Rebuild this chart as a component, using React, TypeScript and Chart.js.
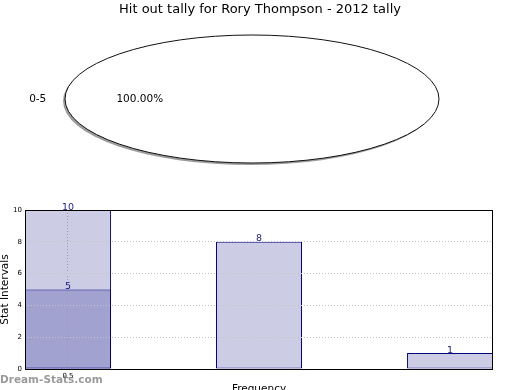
import React, { useEffect, useRef } from "react";
import { Chart, registerables } from "chart.js";

Chart.register(...registerables);

// ---- data ----
const TITLE = "Hit out tally for Rory Thompson - 2012 tally";
const pieLabels = ["0-5"];
const pieValues = [1];
const barCenters = [0.5, 1.5, 2.5];
const barTotals = [10, 8, 1];
const overlayCenters = [0.5];
const overlayValues = [5];
const xTicks = [0.5];
const yTicks = [0, 2, 4, 6, 8, 10];
const X_LABEL = "Frequency";
const Y_LABEL = "Stat Intervals";
const WATERMARK = "Dream-Stats.com";

// ---- style ----
const FONT = "'DejaVu Sans', 'Liberation Sans', sans-serif";
const ELLIPSE_ASPECT = 187 / 64;
const LIGHT = "#ccccE4";
const DARK = "#a2a2d0";
const EDGE = "#000080";
const LABEL_COLOR = "#1a1a8c";

const piePlugin = {
  id: "ellipsePie",
  beforeDatasetsDraw(chart: any) {
    const arc = chart.getDatasetMeta(0).data[0];
    if (!arc) return;
    const { x, y, outerRadius } = arc;
    const ctx = chart.ctx;
    ctx.save();
    ctx.beginPath();
    ctx.ellipse(x - 2, y + 2, outerRadius * ELLIPSE_ASPECT, outerRadius, 0, 0, Math.PI * 2);
    ctx.fillStyle = "rgba(90,90,90,0.6)";
    ctx.fill();
    ctx.restore();
    ctx.save();
    ctx.translate(x, y);
    ctx.scale(ELLIPSE_ASPECT, 1);
    ctx.translate(-x, -y);
  },
  afterDatasetsDraw(chart: any) {
    const ctx = chart.ctx;
    ctx.restore();
    const meta = chart.getDatasetMeta(0);
    const data = chart.data.datasets[0].data as number[];
    const total = data.reduce((a, b) => a + b, 0);
    meta.data.forEach((arc: any, i: number) => {
      const { x, y, outerRadius, startAngle, endAngle } = arc;
      const rx = outerRadius * ELLIPSE_ASPECT;
      const ry = outerRadius;
      ctx.save();
      ctx.beginPath();
      ctx.ellipse(x, y, rx, ry, 0, 0, Math.PI * 2);
      ctx.strokeStyle = "#111";
      ctx.lineWidth = 1;
      ctx.stroke();
      const mid = (startAngle + endAngle) / 2;
      const c = Math.cos(mid);
      const s = Math.sin(mid);
      ctx.fillStyle = "#000";
      ctx.font = `10.5px ${FONT}`;
      ctx.textBaseline = "middle";
      ctx.textAlign = c < -0.01 ? "right" : c > 0.01 ? "left" : "center";
      ctx.fillText(String(chart.data.labels[i]), x + c * 1.1 * rx, y + s * 1.1 * ry);
      ctx.textAlign = "center";
      const pct = ((data[i] / total) * 100).toFixed(2) + "%";
      ctx.fillText(pct, x + c * 0.6 * rx, y + s * 0.6 * ry);
      ctx.restore();
    });
  },
};

const barPlugin = {
  id: "barExtras",
  afterDraw(chart: any) {
    const ctx = chart.ctx;
    const { left, top, right, bottom } = chart.chartArea;
    ctx.save();
    ctx.strokeStyle = "#000";
    ctx.lineWidth = 1;
    ctx.strokeRect(left + 0.5, top + 0.5, right - left - 1, bottom - top);
    ctx.font = `9.5px ${FONT}`;
    ctx.fillStyle = LABEL_COLOR;
    ctx.textAlign = "center";
    ctx.textBaseline = "alphabetic";
    chart.data.datasets.forEach((ds: any, di: number) => {
      const meta = chart.getDatasetMeta(di);
      meta.data.forEach((bar: any, i: number) => {
        const v = ds.data[i].y;
        ctx.fillText(String(v), bar.x, bar.y - 0.5);
      });
    });
    ctx.font = `bold 10.5px ${FONT}`;
    ctx.fillStyle = "rgba(120,120,120,0.75)";
    ctx.textAlign = "left";
    ctx.textBaseline = "middle";
    ctx.fillText(WATERMARK, 0, chart.height - 10);
    ctx.restore();
  },
};

export default function App() {
  const barRef = useRef<HTMLCanvasElement>(null);
  const pieRef = useRef<HTMLCanvasElement>(null);

  useEffect(() => {
    document.body.style.margin = "0";
    const pie = new Chart(pieRef.current as HTMLCanvasElement, {
      type: "pie",
      data: {
        labels: pieLabels,
        datasets: [
          {
            data: pieValues,
            backgroundColor: "#ffffff",
            borderWidth: 0,
            hoverOffset: 0,
            offset: 0,
            clip: false,
          } as any,
        ],
      },
      options: {
        responsive: false,
        animation: false,
        rotation: 90,
        events: [],
        layout: { padding: { left: 0, right: 16, top: 35, bottom: 32 } },
        plugins: {
          legend: { display: false },
          tooltip: { enabled: false },
          title: { display: false },
        },
      } as any,
      plugins: [piePlugin],
    });

    const bar = new Chart(barRef.current as HTMLCanvasElement, {
      type: "bar",
      data: {
        datasets: [
          {
            label: "overlay",
            data: overlayCenters.map((x, i) => ({ x, y: overlayValues[i] })),
            backgroundColor: DARK,
            borderColor: EDGE,
            borderWidth: 1,
            borderSkipped: false,
            grouped: false,
            barPercentage: 0.45,
            categoryPercentage: 1,
          },
          {
            label: "totals",
            data: barCenters.map((x, i) => ({ x, y: barTotals[i] })),
            backgroundColor: LIGHT,
            borderColor: EDGE,
            borderWidth: 1,
            borderSkipped: false,
            grouped: false,
            barPercentage: 0.45,
            categoryPercentage: 1,
          },
        ] as any,
      },
      options: {
        responsive: false,
        animation: false,
        events: [],
        layout: { padding: 0 },
        plugins: {
          legend: { display: false },
          tooltip: { enabled: false },
          title: {
            display: true,
            text: TITLE,
            color: "#000",
            font: { family: FONT, size: 13, weight: "normal", lineHeight: 1.2 },
            padding: { top: 2, bottom: 192.4 },
          },
        },
        scales: {
          x: {
            type: "linear",
            offset: false,
            min: 0.275,
            max: 2.725,
            afterBuildTicks: (s: any) => {
              s.ticks = xTicks.map((v) => ({ value: v }));
            },
            ticks: {
              font: { family: FONT, size: 7 },
              color: "#000",
              padding: 3,
              callback: (v: any) => String(v),
            },
            grid: { color: "#9a9aa6", z: 1, drawTicks: false, lineWidth: 1, offset: false },
            border: { display: false, dash: [1, 2] },
            title: {
              display: true,
              text: X_LABEL,
              color: "#000",
              font: { family: FONT, size: 10.5 },
              padding: { top: 0, bottom: -6 },
            },
            afterFit: (s: any) => {
              s.height = 21;
            },
          },
          y: {
            min: 0,
            max: 10,
            afterBuildTicks: (s: any) => {
              s.ticks = yTicks.map((v) => ({ value: v }));
            },
            ticks: {
              font: { family: FONT, size: 7 },
              color: "#000",
              padding: 3,
            },
            grid: { color: "#c4c4c4", z: 1, drawTicks: false, lineWidth: 1 },
            border: { display: false, dash: [1, 2] },
            title: {
              display: true,
              text: Y_LABEL,
              color: "#000",
              font: { family: FONT, size: 10.5 },
              padding: { top: -1, bottom: 0 },
            },
            afterFit: (s: any) => {
              s.width = 25;
            },
          },
          y2: {
            position: "right",
            display: true,
            grid: { display: false, drawTicks: false },
            ticks: { display: false },
            border: { display: false },
            afterFit: (s: any) => {
              s.width = 27;
            },
          },
        },
      } as any,
      plugins: [barPlugin],
    });

    return () => {
      pie.destroy();
      bar.destroy();
    };
  }, []);

  return (
    <div style={{ position: "relative", width: 520, height: 390, overflow: "hidden", background: "#fff" }}>
      <canvas ref={barRef} width={520} height={390} style={{ position: "absolute", left: 0, top: 0 }} />
      <canvas ref={pieRef} width={520} height={195} style={{ position: "absolute", left: 0, top: 0 }} />
    </div>
  );
}
